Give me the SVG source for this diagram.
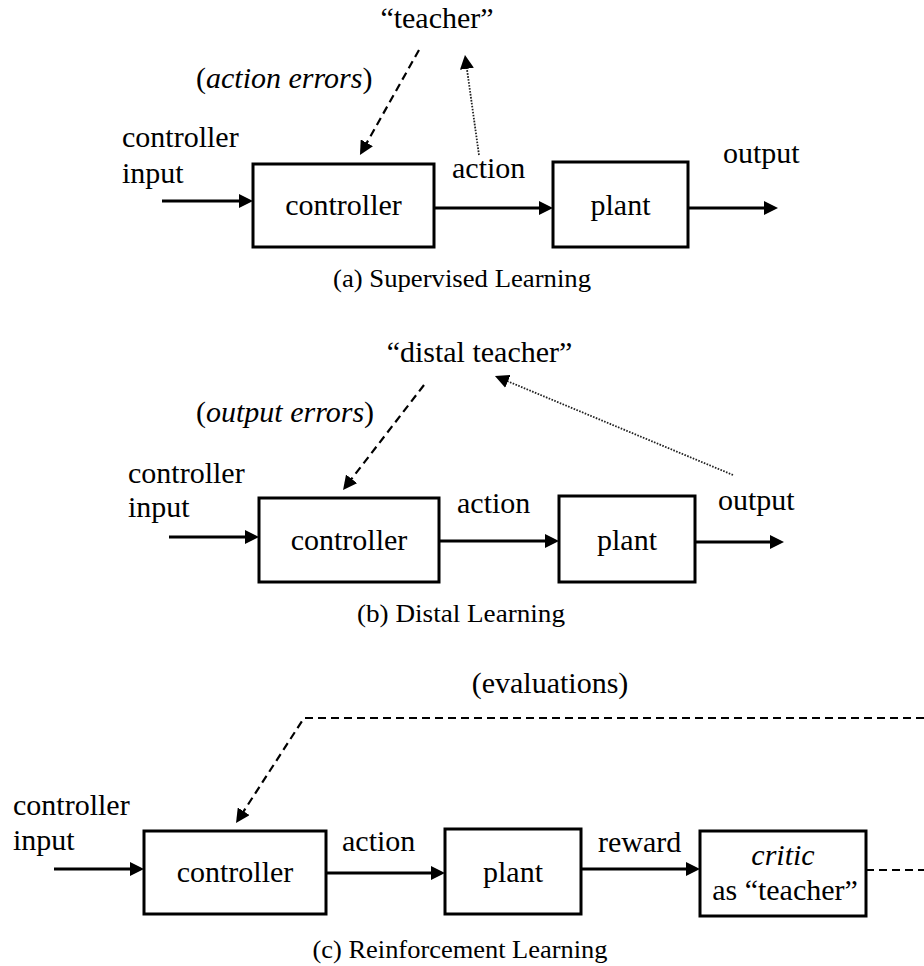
<svg xmlns="http://www.w3.org/2000/svg" width="924" height="966" viewBox="0 0 924 966" font-family="'Liberation Serif', 'Times New Roman', serif">
<defs>
<style>
text{font-family:'Liberation Serif','Times New Roman',serif}
.t{font-size:30px;fill:#000}
.i{font-style:italic}
.cap{font-size:25px;fill:#000}
.box{fill:#fff;stroke:#000;stroke-width:3}
.sol{stroke:#000;stroke-width:3;fill:none}
.dash{stroke:#000;stroke-width:2.2;fill:none;stroke-dasharray:8 5}
.dot{stroke:#222;stroke-width:1.8;fill:none;stroke-dasharray:1.6 1.4}
</style>
<marker id="ah" markerUnits="userSpaceOnUse" markerWidth="14" markerHeight="14" refX="8" refY="7" orient="auto" viewBox="0 0 14 14">
<path d="M0,0 L14,7 L0,14 z" fill="#000"/>
</marker>
</defs>
<rect x="0" y="0" width="924" height="966" fill="#fff"/>

<!-- Panel (a) -->
<g id="a-teacher"><text class="t" x="437" y="28" text-anchor="middle">“teacher”</text></g>
<g id="a-controller"><rect class="box" x="253" y="164" width="181" height="83"/><text class="t" x="343.5" y="215" text-anchor="middle">controller</text></g>
<g id="a-plant"><rect class="box" x="553" y="162" width="135" height="85"/><text class="t" x="620.5" y="215" text-anchor="middle">plant</text></g>
<g id="a-labels">
<text class="t" x="196" y="88">(<tspan class="i">action errors</tspan>)</text>
<text class="t" x="122" y="147">controller</text>
<text class="t" x="122" y="183">input</text>
<text class="t" x="452" y="178">action</text>
<text class="t" x="723" y="163">output</text>
<text class="cap" x="462" y="287" text-anchor="middle" textLength="258" lengthAdjust="spacingAndGlyphs">(a) Supervised Learning</text>
</g>

<!-- Panel (b) -->
<g id="b-teacher"><text class="t" x="479.5" y="362" text-anchor="middle">“distal teacher”</text></g>
<g id="b-controller"><rect class="box" x="259" y="498" width="180" height="84"/><text class="t" x="349" y="550" text-anchor="middle">controller</text></g>
<g id="b-plant"><rect class="box" x="559" y="496" width="136" height="86"/><text class="t" x="627" y="550" text-anchor="middle">plant</text></g>
<g id="b-labels">
<text class="t" x="196" y="422">(<tspan class="i">output errors</tspan>)</text>
<text class="t" x="128" y="483">controller</text>
<text class="t" x="128" y="517">input</text>
<text class="t" x="457" y="513">action</text>
<text class="t" x="718" y="510">output</text>
<text class="cap" x="461" y="622" text-anchor="middle" textLength="208" lengthAdjust="spacingAndGlyphs">(b) Distal Learning</text>
</g>

<!-- Panel (c) -->
<g id="c-controller"><rect class="box" x="144" y="831" width="182" height="83"/><text class="t" x="235" y="882" text-anchor="middle">controller</text></g>
<g id="c-plant"><rect class="box" x="445" y="829" width="136" height="85"/><text class="t" x="513" y="882" text-anchor="middle">plant</text></g>
<g id="c-critic"><rect class="box" x="700" y="831" width="166" height="85"/><text class="t i" x="783" y="865" text-anchor="middle">critic</text><text class="t" x="785" y="900" text-anchor="middle">as “teacher”</text></g>
<g id="c-labels">
<text class="t" x="550" y="693" text-anchor="middle">(evaluations)</text>
<text class="t" x="13" y="815">controller</text>
<text class="t" x="13" y="850">input</text>
<text class="t" x="342" y="851">action</text>
<text class="t" x="598" y="852">reward</text>
<text class="cap" x="460" y="958" text-anchor="middle" textLength="295" lengthAdjust="spacingAndGlyphs">(c) Reinforcement Learning</text>
</g>

<g id="connectors">
<!-- a -->
<line class="sol" x1="162" y1="201" x2="247" y2="201" marker-end="url(#ah)"/>
<line class="sol" x1="434" y1="208" x2="547" y2="208" marker-end="url(#ah)"/>
<line class="sol" x1="688" y1="208" x2="772" y2="208" marker-end="url(#ah)"/>
<line class="dash" x1="419" y1="50" x2="362.9" y2="149.8" marker-end="url(#ah)"/>
<line class="dot" x1="479" y1="155" x2="465.8" y2="60.9" marker-end="url(#ah)"/>
<!-- b -->
<line class="sol" x1="169" y1="537" x2="253" y2="537" marker-end="url(#ah)"/>
<line class="sol" x1="439" y1="541" x2="553" y2="541" marker-end="url(#ah)"/>
<line class="sol" x1="695" y1="542" x2="778" y2="542" marker-end="url(#ah)"/>
<line class="dash" x1="424" y1="385" x2="346.7" y2="485.2" marker-end="url(#ah)"/>
<line class="dot" x1="733" y1="475" x2="500.5" y2="378.3" marker-end="url(#ah)"/>
<!-- c -->
<line class="sol" x1="54" y1="869" x2="138" y2="869" marker-end="url(#ah)"/>
<line class="sol" x1="326" y1="873" x2="439" y2="873" marker-end="url(#ah)"/>
<line class="sol" x1="581" y1="869" x2="694" y2="869" marker-end="url(#ah)"/>
<polyline class="dash" points="924,718 304,718 239.3,818" marker-end="url(#ah)"/>
<line class="dash" x1="866" y1="870" x2="924" y2="870"/>
</g>
</svg>
